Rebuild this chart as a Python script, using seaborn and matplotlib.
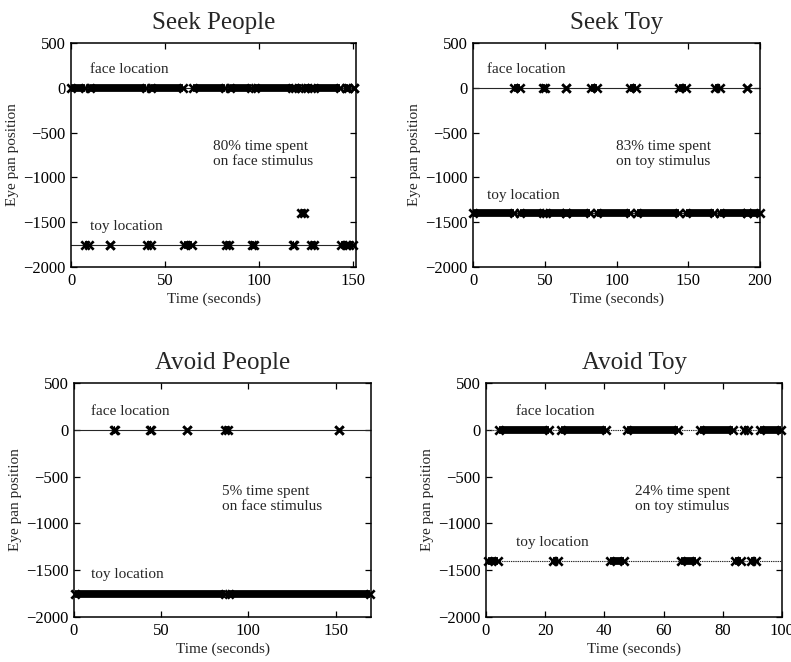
import matplotlib
matplotlib.use("Agg")
import matplotlib.pyplot as plt
import pandas as pd
import seaborn as sns

# Gaze traces: runs of samples (start s, end s) spent at each target location.
face_y = 0

# Seek People
seek_people_toy_y = -1750
seek_people_face = [(0.0, 7.3), (10.2, 40.0), (42.7, 59.8), (64.8, 82.0), (84.4, 96.0),
                    (97.9, 117.7), (119.1, 122.3), (124.5, 127.4), (129.3, 143.3),
                    (146.4, 147.4), (150.3, 150.3)]
seek_people_toy = [(7.7, 9.8), (21.0, 21.0), (40.4, 42.3), (60.1, 64.4), (82.4, 84.0),
                   (96.3, 97.6), (118.0, 118.8), (127.7, 129.0), (143.6, 146.1), (147.7, 150.0)]
seek_people_other_y = -1400
seek_people_other = [(122.6, 124.2)]

# Seek Toy
seek_toy_toy_y = -1400
seek_toy_face = [(28.6, 32.8), (48.8, 50.5), (64.8, 64.8), (81.9, 86.4), (109.4, 113.9),
                 (143.6, 148.4), (168.3, 172.1), (190.9, 190.9)]
seek_toy_toy = [(0.0, 28.3), (33.1, 48.5), (50.8, 64.5), (65.1, 81.6), (86.7, 109.1),
                (114.2, 143.3), (148.7, 168.0), (172.4, 190.6), (191.2, 200.0)]

# Avoid People
avoid_people_toy_y = -1750
avoid_people_face = [(22.8, 23.6), (43.7, 44.3), (64.6, 64.6), (86.8, 88.3), (151.8, 151.8)]
avoid_people_toy = [(0.5, 86.4), (88.7, 169.6)]

# Avoid Toy
avoid_toy_toy_y = -1400
avoid_toy_face = [(4.4, 21.4), (25.4, 40.5), (47.5, 64.8), (72.3, 83.3), (87.2, 88.4),
                  (92.6, 99.6)]
avoid_toy_toy = [(0.8, 3.9), (22.7, 24.2), (41.9, 46.7), (65.8, 71.0), (84.1, 86.1),
                 (89.6, 91.2)]

titles = ["Seek People", "Seek Toy", "Avoid People", "Avoid Toy"]
x_limits = [151.6, 200, 170.3, 100]
x_ticks = [[0, 50, 100, 150], [0, 50, 100, 150, 200], [0, 50, 100, 150],
           [0, 20, 40, 60, 80, 100]]
stat_texts = ["80% time spent\non face stimulus", "83% time spent\non toy stimulus",
              "5% time spent\non face stimulus", "24% time spent\non toy stimulus"]
stat_x = [75.7, 100, 85, 50.3]
y_ticks = [-2000, -1500, -1000, -500, 0, 500]

sns.set_style("ticks", rc={
    "xtick.direction": "in", "ytick.direction": "in",
    "axes.edgecolor": "black", "axes.linewidth": 1.1,
})
plt.rcParams["font.family"] = ["Liberation Serif", "DejaVu Serif"]
plt.rcParams["axes.unicode_minus"] = True

fig = plt.figure(figsize=(7.91, 6.62), dpi=100)
W, H = 791, 662
boxes = [(71, 43, 356, 267), (473, 43, 760, 267), (74, 383, 371, 617), (486, 383, 782, 617)]
axes = [fig.add_axes([l / W, 1 - b / H, (r - l) / W, (b - t) / H]) for l, t, r, b in boxes]

panels = [
    (seek_people_face, seek_people_toy, seek_people_toy_y, seek_people_other, seek_people_other_y, "-"),
    (seek_toy_face, seek_toy_toy, seek_toy_toy_y, [], None, "-"),
    (avoid_people_face, avoid_people_toy, avoid_people_toy_y, [], None, "-"),
    (avoid_toy_face, avoid_toy_toy, avoid_toy_toy_y, [], None, (0, (1.2, 0.8))),
]


def draw_runs(ax, runs, y):
    if not runs:
        return
    starts = [a for a, b in runs]
    ends = [b for a, b in runs]
    ax.hlines([y] * len(runs), starts, ends, colors="black", linewidth=5.6,
              capstyle="butt", zorder=3)
    pts = pd.DataFrame({"t": starts + ends, "pos": [y] * (2 * len(runs))})
    sns.scatterplot(data=pts, x="t", y="pos", marker="x", color="black", s=36,
                    linewidth=1.9, ax=ax, zorder=4, legend=False, clip_on=False)


for i, ax in enumerate(axes):
    face, toy, toy_y, other, other_y, ls = panels[i]
    ax.axhline(face_y, color="0.15", lw=0.8, ls=ls, zorder=2)
    ax.axhline(toy_y, color="0.15", lw=0.8, ls=ls, zorder=2)
    draw_runs(ax, face, face_y)
    draw_runs(ax, toy, toy_y)
    if other:
        draw_runs(ax, other, other_y)

    ax.set_xlim(0, x_limits[i])
    ax.set_ylim(-2000, 500)
    ax.set_xticks(x_ticks[i])
    ax.set_yticks(y_ticks)
    ax.tick_params(direction="in", top=True, right=True, length=4, width=0.9,
                   labelsize=12, pad=4, colors="black")
    for sp in ax.spines.values():
        sp.set_visible(True)
        sp.set_linewidth(1.1)
    ax.set_xlabel("Time (seconds)", fontsize=11, labelpad=3)
    ax.set_ylabel("Eye pan position", fontsize=11, labelpad=3)
    ax.set_title(titles[i], fontsize=18, pad=10)

    ax.text(10, face_y + 200, "face location", fontsize=11, ha="left", va="center")
    ax.text(10, toy_y + 200, "toy location", fontsize=11, ha="left", va="center")
    ax.text(stat_x[i], -740, stat_texts[i], fontsize=11, ha="left", va="center",
            linespacing=1.15)

fig.savefig("out.png", dpi=100)
